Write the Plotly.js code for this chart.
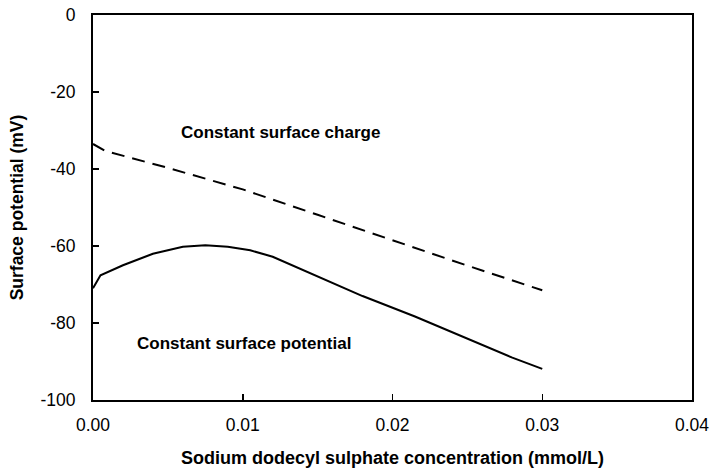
<!DOCTYPE html>
<html>
<head>
<meta charset="utf-8">
<script src="https://cdn.plot.ly/plotly-3.0.1.min.js"></script>
<style>
html, body { margin: 0; padding: 0; background: #fff; }
#chart { width: 711px; height: 468px; }
</style>
</head>
<body>
<div id="chart"></div>
<script>
// Constant surface charge (dashed)
var chargeX = [0, 0.0008, 0.005, 0.01, 0.015, 0.02, 0.025, 0.03];
var chargeY = [-33.5, -35.3, -39.7, -45.3, -51.9, -58.6, -65.1, -71.5];

// Constant surface potential (solid)
var potentialX = [0, 0.0005, 0.002, 0.004, 0.006, 0.0075, 0.009, 0.0105, 0.012, 0.015, 0.018, 0.0215, 0.025, 0.028, 0.03];
var potentialY = [-71, -67.6, -65, -62, -60.2, -59.8, -60.2, -61.1, -62.8, -68, -73, -78.3, -84, -89, -91.9];

var xTickVals = [0, 0.01, 0.02, 0.03, 0.04];
var xTickText = ["0.00", "0.01", "0.02", "0.03", "0.04"];
var yTickVals = [-100, -80, -60, -40, -20, 0];
var yTickText = ["-100", "-80", "-60", "-40", "-20", "0"];

var FONT = "Arial, 'Liberation Sans', sans-serif";

var traces = [
  {
    x: chargeX, y: chargeY, type: "scatter", mode: "lines",
    name: "Constant surface charge",
    line: { color: "#000", width: 2, dash: "13px,8px" }
  },
  {
    x: potentialX, y: potentialY, type: "scatter", mode: "lines",
    name: "Constant surface potential",
    line: { color: "#000", width: 2 }
  }
];

var layout = {
  width: 711, height: 468,
  margin: { l: 93, r: 19, t: 14.5, b: 68, pad: 0 },
  paper_bgcolor: "#fff", plot_bgcolor: "#fff",
  showlegend: false,
  font: { family: FONT, size: 17, color: "#000" },
  xaxis: {
    range: [0, 0.04],
    tickvals: xTickVals, ticktext: xTickText,
    ticks: "inside", ticklen: 6, tickwidth: 1.5, tickcolor: "#000",
    showline: true, linecolor: "#000", linewidth: 2, mirror: true,
    showgrid: false, zeroline: false,
    tickfont: { family: FONT, size: 17.5, color: "#000" },
    ticklabelstandoff: 8,
    title: { text: "<b>Sodium dodecyl sulphate concentration (mmol/L)</b>", font: { family: FONT, size: 18, color: "#000" }, standoff: 19 }
  },
  yaxis: {
    range: [-100, 0],
    tickvals: yTickVals, ticktext: yTickText,
    ticks: "inside", ticklen: 6, tickwidth: 1.5, tickcolor: "#000",
    showline: true, linecolor: "#000", linewidth: 2, mirror: true,
    showgrid: false, zeroline: false,
    tickfont: { family: FONT, size: 17.5, color: "#000" },
    ticklabelstandoff: 12,
    title: { text: "<b>Surface potential (mV)</b>", font: { family: FONT, size: 17.5, color: "#000" }, standoff: 12 }
  },
  annotations: [
    { text: "<b>Constant surface charge</b>", x: 0.01249, y: -30.4, xref: "x", yref: "y", showarrow: false, font: { family: FONT, size: 17, color: "#000" } },
    { text: "<b>Constant surface potential</b>", x: 0.01005, y: -85.2, xref: "x", yref: "y", showarrow: false, font: { family: FONT, size: 17, color: "#000" } }
  ]
};

Plotly.newPlot("chart", traces, layout, { staticPlot: true, displayModeBar: false });
</script>
</body>
</html>
